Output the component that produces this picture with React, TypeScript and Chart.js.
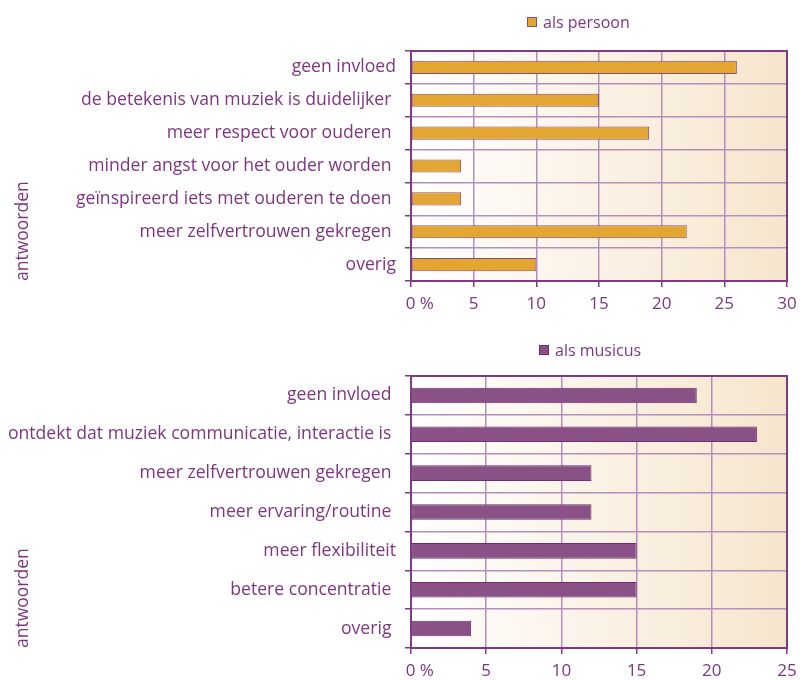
import React, { useEffect, useRef } from 'react';
import { Chart, registerables } from 'chart.js';

Chart.register(...registerables);

const FONT = '"Open Sans", sans-serif';
const TEXT_COLOR = '#7E3580';
const AXIS_COLOR = '#7E3A82';
const GRID_COLOR = '#B58FBC';

const personCategories = [
  'geen invloed',
  'de betekenis van muziek is duidelijker ',
  'meer respect voor ouderen ',
  'minder angst voor het ouder worden ',
  'geïnspireerd iets met ouderen te doen ',
  'meer zelfvertrouwen gekregen ',
  'overig',
];
const personValues = [26, 15, 19, 4, 4, 22, 10];
const personMax = 30;

const musicusCategories = [
  'geen invloed ',
  'ontdekt dat muziek communicatie, interactie is ',
  'meer zelfvertrouwen gekregen ',
  'meer ervaring/routine ',
  'meer flexibiliteit',
  'betere concentratie ',
  'overig ',
];
const musicusValues = [19, 23, 12, 12, 15, 15, 4];
const musicusMax = 25;

const tickStep = 5;
const zeroTickLabel = '    0 %';
const axisTitle = 'antwoorden';

const bgPlugin = {
  id: 'bgGradient',
  beforeDraw(chart: any) {
    const { ctx, chartArea: a } = chart;
    if (!a) return;
    const g = ctx.createLinearGradient(a.left, 0, a.right, 0);
    g.addColorStop(0, '#FFFFFF');
    g.addColorStop(1, '#F6E5CD');
    ctx.save();
    ctx.fillStyle = g;
    ctx.fillRect(a.left, a.top, a.right - a.left, a.bottom - a.top);
    ctx.restore();
  },
};

const framePlugin = {
  id: 'frame',
  afterDraw(chart: any) {
    const { ctx, chartArea: a } = chart;
    ctx.save();
    ctx.strokeStyle = AXIS_COLOR;
    ctx.lineWidth = 2;
    ctx.beginPath();
    ctx.moveTo(a.left - 1, a.top);
    ctx.lineTo(a.right, a.top);
    ctx.lineTo(a.right, a.bottom + 1);
    ctx.stroke();
    ctx.restore();
  },
};

const legendPlugin = {
  id: 'boxLegend',
  afterDraw(chart: any, _args: any, opts: any) {
    const { ctx } = chart;
    const ds = chart.data.datasets[0];
    const size = 10;
    ctx.save();
    ctx.fillStyle = ds.backgroundColor;
    ctx.fillRect(opts.x, opts.y - size / 2, size, size);
    ctx.strokeStyle = ds.borderColor;
    ctx.lineWidth = 1;
    ctx.strokeRect(opts.x + 0.5, opts.y - size / 2 + 0.5, size - 1, size - 1);
    ctx.fillStyle = TEXT_COLOR;
    ctx.font = `16px ${FONT}`;
    ctx.textBaseline = 'middle';
    ctx.textAlign = 'left';
    ctx.fillText(ds.label, opts.x + size + 6, opts.y + 1);
    ctx.restore();
  },
};

function makeConfig(
  label: string,
  categories: string[],
  values: number[],
  max: number,
  fill: string,
  border: string,
  padTop: number,
  xHeight: number,
  legendX: number,
  legendY: number
): any {
  return {
    type: 'bar',
    data: {
      labels: categories,
      datasets: [
        {
          label,
          data: values,
          backgroundColor: fill,
          borderColor: border,
          borderWidth: 1,
          borderSkipped: false,
          barPercentage: 0.4,
          categoryPercentage: 1,
        },
      ],
    },
    plugins: [bgPlugin, framePlugin, legendPlugin],
    options: {
      indexAxis: 'y',
      responsive: false,
      animation: false,
      layout: { padding: { top: padTop, left: 0, right: 13, bottom: 0 } },
      plugins: {
        legend: { display: false },
        tooltip: { enabled: false },
        boxLegend: { x: legendX, y: legendY },
      },
      scales: {
        x: {
          min: 0,
          max,
          ticks: {
            stepSize: tickStep,
            color: TEXT_COLOR,
            font: { family: FONT, size: 17 },
            padding: 7,
            callback: (v: number) => (v === 0 ? zeroTickLabel : String(v)),
          },
          grid: {
            color: GRID_COLOR,
            lineWidth: 1.5,
            tickColor: AXIS_COLOR,
            tickLength: 6,
          },
          border: { color: AXIS_COLOR, width: 2 },
          afterFit: (scale: any) => {
            scale.height = xHeight;
            scale.paddingLeft = 0;
            scale.paddingRight = 0;
          },
        },
        y: {
          ticks: {
            color: TEXT_COLOR,
            font: { family: FONT, size: 17.6 },
            padding: 9,
          },
          grid: {
            color: GRID_COLOR,
            lineWidth: 1.5,
            tickColor: AXIS_COLOR,
            tickLength: 6,
            offset: true,
          },
          border: { color: AXIS_COLOR, width: 2 },
          title: {
            display: true,
            text: axisTitle,
            align: 'start',
            color: TEXT_COLOR,
            font: { family: FONT, size: 17.5 },
            padding: { top: 13, bottom: 0 },
          },
          afterFit: (scale: any) => {
            scale.width = 411;
            scale.paddingTop = 0;
            scale.paddingBottom = 0;
          },
        },
      },
    },
  };
}

function BarPanel(props: { config: any; height: number }) {
  const ref = useRef<HTMLCanvasElement | null>(null);
  useEffect(() => {
    if (!ref.current) return;
    const chart = new Chart(ref.current, props.config);
    return () => chart.destroy();
  }, []);
  return (
    <canvas
      ref={ref}
      width={800}
      height={props.height}
      style={{ display: 'block', width: 800, height: props.height }}
    />
  );
}

export default function App() {
  useEffect(() => {
    document.body.style.margin = '0';
    document.body.style.background = '#FFFFFF';
  }, []);
  const top = makeConfig('als persoon', personCategories, personValues, personMax, '#E3A632', '#8E4E72', 51, 49, 527, 22);
  const bottom = makeConfig('als musicus', musicusCategories, musicusValues, musicusMax, '#8A5186', '#6F2F70', 46, 32, 539, 20);
  return (
    <div style={{ width: 800, height: 680, background: '#FFFFFF' }}>
      <BarPanel config={top} height={330} />
      <BarPanel config={bottom} height={350} />
    </div>
  );
}
